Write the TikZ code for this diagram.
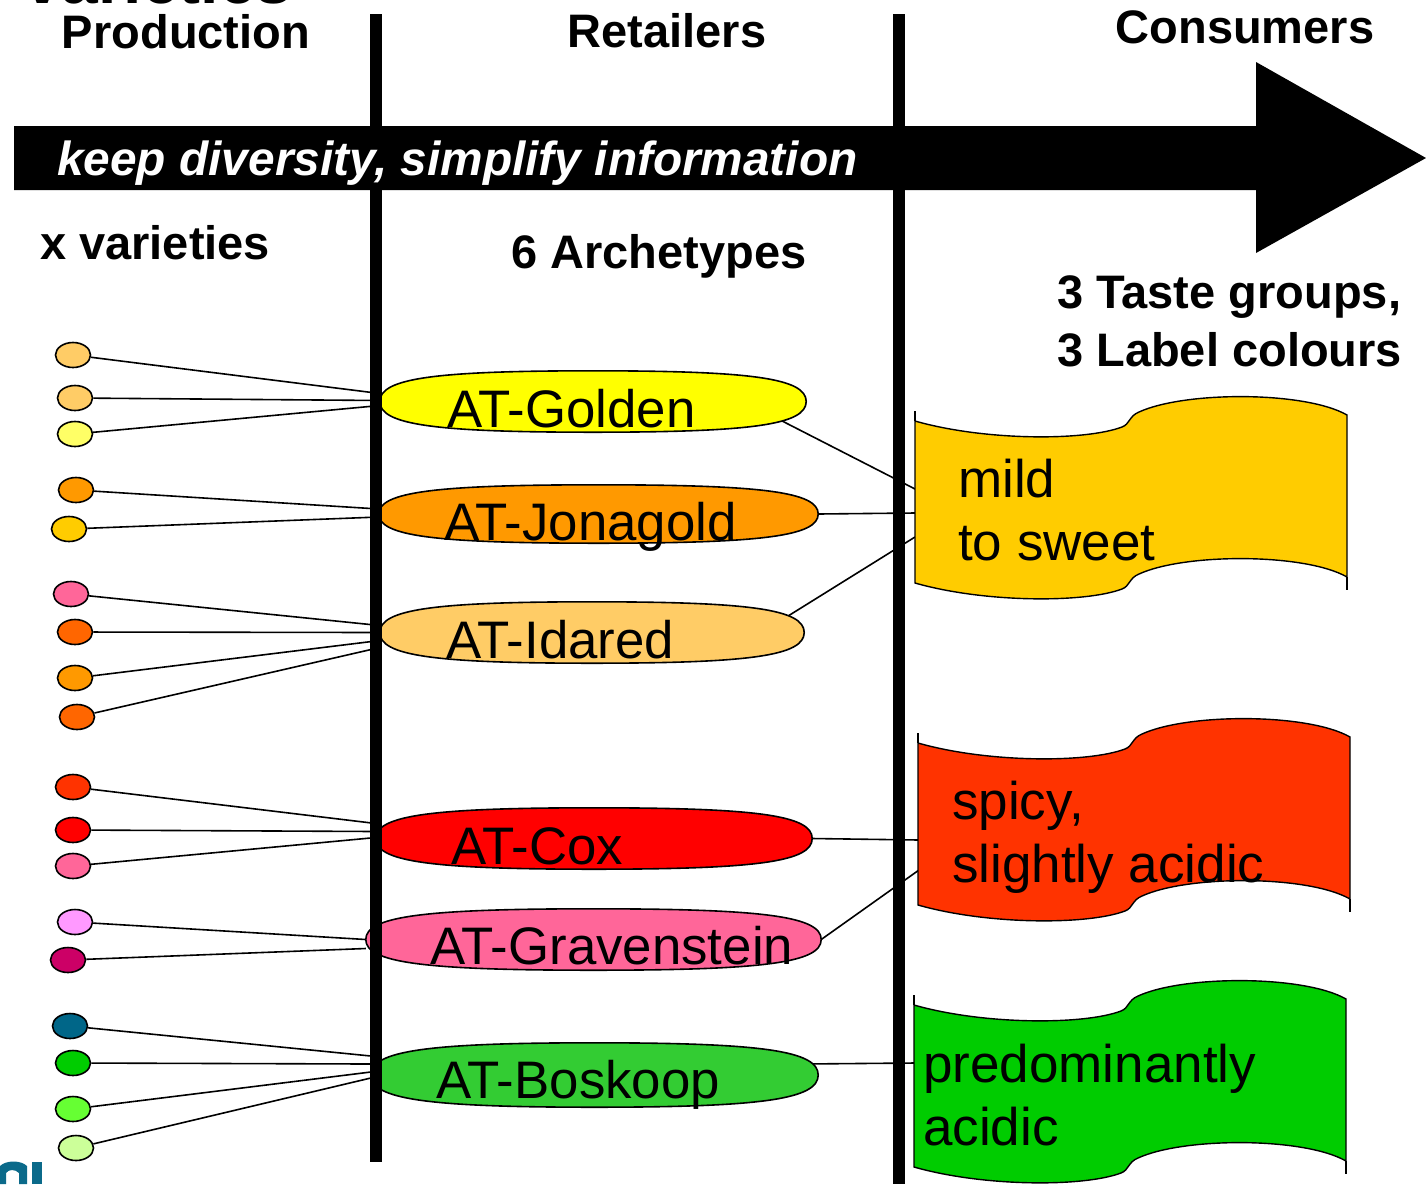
\documentclass[tikz,border=0pt]{standalone}
\usepackage{fontspec}
\setmainfont{Liberation Sans}
\usetikzlibrary{shapes.geometric,calc}

\definecolor{vpeach}{HTML}{FFCC66}
\definecolor{vlemon}{HTML}{FFFF66}
\definecolor{vorange}{HTML}{FF9900}
\definecolor{vgold}{HTML}{FFCC00}
\definecolor{vpink}{HTML}{FF6699}
\definecolor{vrust}{HTML}{FF6600}
\definecolor{vscarlet}{HTML}{FF3300}
\definecolor{vred}{HTML}{FF0000}
\definecolor{vlilac}{HTML}{FF99FF}
\definecolor{vberry}{HTML}{CC0066}
\definecolor{vteal}{HTML}{006688}
\definecolor{vgreen}{HTML}{00CC00}
\definecolor{vlime}{HTML}{66FF33}
\definecolor{vpale}{HTML}{CCFF99}
\definecolor{atyellow}{HTML}{FFFF00}
\definecolor{atgreen}{HTML}{33CC33}
\definecolor{logoblue}{HTML}{0B6A8A}

\newcommand{\hdfont}{\fontsize{47}{58}\selectfont\bfseries}
\newcommand{\atfont}{\fontsize{52.8}{60}\selectfont}
\newcommand{\tgfont}{\fontsize{53}{63}\selectfont}

\tikzset{
  variety/.style={ellipse,draw=black,line width=1.6pt,fill=#1,minimum width=35pt,minimum height=25pt,inner sep=0pt},
  archetype/.style={ellipse,inner sep=0pt},
  link/.style={black,line width=1.6pt},
  head/.style={font=\hdfont,inner sep=0pt},
  atname/.style={font=\atfont,inner sep=0pt,anchor=base west},
  tgname/.style={font=\tgfont,inner sep=0pt,anchor=base west,align=left}
}

% node name, colour: a full oval round an archetype node
\newcommand{\atshape}[2]{%
\draw[fill=#2,line width=1.6pt] (#1.west)
 .. controls ($(#1.west)!0.75!(#1.west |- #1.north)$) and ($(#1.north)!0.75!(#1.west |- #1.north)$) .. (#1.north)
 .. controls ($(#1.north)!0.75!(#1.east |- #1.north)$) and ($(#1.east)!0.75!(#1.east |- #1.north)$) .. (#1.east)
 .. controls ($(#1.east)!0.75!(#1.east |- #1.south)$) and ($(#1.south)!0.75!(#1.east |- #1.south)$) .. (#1.south)
 .. controls ($(#1.south)!0.75!(#1.west |- #1.south)$) and ($(#1.west)!0.75!(#1.west |- #1.south)$) .. (#1.west) -- cycle;}

% x, y of the top edge, colour
\newcommand{\tasteflag}[3]{%
\begin{scope}[shift={(#1,#2)}]
\draw[fill=#3,line width=1.4pt] (0,0) .. controls (70,20) and (170,20) .. (207,6) .. controls (215,3) and (214,-5) .. (224,-9) .. controls (270,-30) and (390,-30) .. (432,-6) -- (432,156) .. controls (390,132) and (270,132) .. (224,153) .. controls (214,157) and (215,165) .. (207,168) .. controls (170,182) and (70,182) .. (0,162) -- cycle;
\draw[line width=1.4pt] (0,0) -- (0,-10) (432,156) -- (432,169);
\end{scope}}

\begin{document}
\begin{tikzpicture}[x=1pt,y=-1pt]
\useasboundingbox (0,0) rectangle (1426,1184);

\node[head,anchor=base east,font=\fontsize{66}{70}\selectfont\bfseries] (title) at (293,3) {v varieties};
\node[head,anchor=base] (prod) at (186,48) {Production};
\node[head,anchor=base] (retail) at (667,47) {Retailers};
\node[head,anchor=base] (cons) at (1245,43) {Consumers};

\node[head,anchor=base west] (xvar) at (40,259) {x varieties};
\node[head,anchor=base west] (six) at (511,268) {6 Archetypes};
\node[head,anchor=base west,align=left] (three) at (1057,366) {3 Taste groups,\\3 Label colours};

\node[variety=vpeach] (v1) at (73,355) {};
\node[variety=vpeach] (v2) at (75,398) {};
\node[variety=vlemon] (v3) at (75,434) {};
\node[variety=vorange] (v4) at (76,490) {};
\node[variety=vgold] (v5) at (69,529) {};
\node[variety=vpink] (v6) at (71,594) {};
\node[variety=vrust] (v7) at (75,632) {};
\node[variety=vorange] (v8) at (75,678) {};
\node[variety=vrust] (v9) at (77,717) {};
\node[variety=vscarlet] (v10) at (73,787) {};
\node[variety=vred] (v11) at (73,830) {};
\node[variety=vpink] (v12) at (73,866) {};
\node[variety=vlilac] (v13) at (75,922) {};
\node[variety=vberry] (v14) at (68,960) {};
\node[variety=vteal] (v15) at (70,1026) {};
\node[variety=vgreen] (v16) at (73,1063) {};
\node[variety=vlime] (v17) at (73,1109) {};
\node[variety=vpale] (v18) at (76,1148) {};

\node[archetype,minimum width=426pt,minimum height=61pt] (golden) at (593,401.5) {};
\node[archetype,minimum width=439pt,minimum height=58pt] (jonagold) at (598.5,514) {};
\node[archetype,minimum width=424pt,minimum height=61pt] (idared) at (592,632.5) {};
\node[archetype,minimum width=436pt,minimum height=61pt] (cox) at (594,838.5) {};
\node[archetype,minimum width=455pt,minimum height=61pt] (grav) at (593.5,939.5) {};
\node[archetype,minimum width=447pt,minimum height=64pt] (boskoop) at (594.5,1075) {};

\coordinate (mildA) at (915,489);
\coordinate (mildB) at (915,513);
\coordinate (mildC) at (915,537);
\coordinate (spicyA) at (919,840);
\coordinate (spicyB) at (919,870);
\coordinate (acidA) at (915,1063);

\draw[link] (v1) -- ([yshift=8pt]golden.west);
\draw[link] (v2) -- ([yshift=1pt]golden.west);
\draw[link] (v3) -- ([yshift=-4pt]golden.west);
\draw[link] (v4) -- ([yshift=5pt]jonagold.west);
\draw[link] (v5) -- ([yshift=-3pt]jonagold.west);
\draw[link] (v6) -- ([yshift=7pt]idared.west);
\draw[link] (v7) -- ([yshift=0pt]idared.west);
\draw[link] (v8) -- ([yshift=-8pt]idared.west);
\draw[link] (v9) -- ([yshift=-15pt]idared.west);
\draw[link] (v10) -- ([yshift=15pt]cox.west);
\draw[link] (v11) -- ([yshift=7pt]cox.west);
\draw[link] (v12) -- ([yshift=1pt]cox.west);
\draw[link] (v13) -- ([yshift=0pt]grav.west);
\draw[link] (v14) -- ([yshift=-9pt]grav.west);
\draw[link] (v15) -- ([yshift=19pt]boskoop.west);
\draw[link] (v16) -- ([yshift=11pt]boskoop.west);
\draw[link] (v17) -- ([yshift=3pt]boskoop.west);
\draw[link] (v18) -- ([yshift=-3pt]boskoop.west);

\draw[link] (golden.-5) -- (mildA);
\draw[link] (jonagold.east) -- (mildB);
\draw[link] (idared.4) -- (mildC);
\draw[link] (cox.east) -- (spicyA);
\draw[link] (grav.east) -- (spicyB);
\draw[link] (boskoop.3) -- (acidA);

\atshape{golden}{atyellow}
\atshape{jonagold}{vorange}
\atshape{idared}{vpeach}
\atshape{cox}{vred}
\atshape{grav}{vpink}
\atshape{boskoop}{atgreen}

\fill (370,14) rectangle (382,1162);
\fill (893,14) rectangle (905,1184);

\node[atname] (goldenT) at (447,427) {AT-Golden};
\node[atname] (jonagoldT) at (444,540) {AT-Jonagold};
\node[atname] (idaredT) at (446,658) {AT-Idared};
\node[atname] (coxT) at (451,864) {AT-Cox};
\node[atname] (gravT) at (430,964) {AT-Gravenstein};
\node[atname] (boskoopT) at (436,1098) {AT-Boskoop};

\tasteflag{915}{421}{vgold}
\tasteflag{918}{743}{vscarlet}
\tasteflag{914}{1005}{vgreen}

\node[tgname] (mild) at (958,560) {mild\\to sweet};
\node[tgname] (spicy) at (952,882) {spicy,\\slightly acidic};
\node[tgname] (acid) at (923,1145) {predominantly\\acidic};

\fill (14,126) -- (1256,126) -- (1256,62) -- (1426,158) -- (1256,253) -- (1256,190) -- (14,190) -- cycle;
\node[inner sep=0pt,anchor=base west,text=white,font=\fontsize{47.8}{56}\selectfont\bfseries\itshape] (motto) at (57,175) {keep diversity, simplify information};

\fill[logoblue] (32,1162) rectangle (42,1184);
\fill[logoblue] (0,1184) -- (0,1166) .. controls (6,1160) and (21,1160) .. (27,1166) -- (27,1184) -- (19,1184) -- (19,1173) .. controls (15,1169) and (9,1169) .. (6,1173) -- (6,1184) -- cycle;

\end{tikzpicture}
\end{document}
